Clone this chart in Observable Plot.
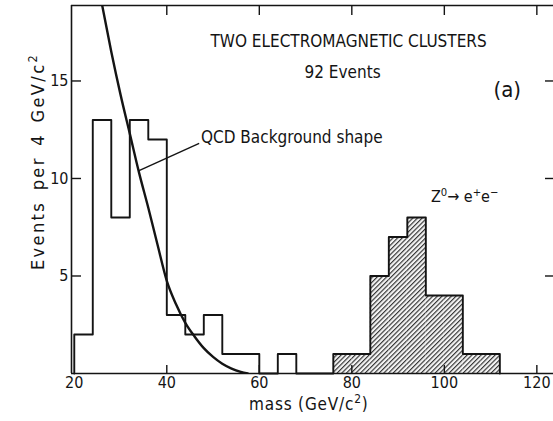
<!DOCTYPE html>
<html><head><meta charset="utf-8">
<script src="https://cdn.jsdelivr.net/npm/d3@7"></script>
<script src="https://cdn.jsdelivr.net/npm/@observablehq/plot@0.6"></script>
<style>
html,body{margin:0;padding:0;background:#fff;}
#chart svg{display:block;}
</style></head><body><div id="chart"></div>
<script>
// ---- data ----
const binLow    = [20, 24, 28, 32, 36, 40, 44, 48, 52, 56, 60, 64, 68, 72, 76, 80, 84, 88, 92, 96, 100, 104, 108];
const binCounts = [ 2, 13,  8, 13, 12,  3,  2,  3,  1,  1,  0,  1,  0,  0,  1,  1,  5,  7,  8,  4,   4,   1,   1];
const binWidth = 4;
const zPeakFrom = 76; // bins from here on are the hatched Z0 -> e+e- signal

const curveMass   = [25.6, 28, 30, 32, 34, 36, 38, 40, 42, 44, 46, 48, 50, 52, 54, 56, 57.5];
const curveEvents = [19.4, 16.5, 14.3, 12.3, 10.3, 8.5, 6.6, 4.75, 3.55, 2.6, 1.9, 1.3, 0.85, 0.5, 0.25, 0.08, 0];

const xTicks = [20, 40, 60, 80, 100, 120];
const yTicks = [5, 10, 15];
const xDomain = [19.4, 123.6];
const yDomain = [0, 18.87];

const titleText = ["TWO ELECTROMAGNETIC CLUSTERS", "92 Events"];
const titleMass = [79.3, 78.0];
const titleEvents = [17.0, 15.45];
const panelText = "(a)";
const panelAt = [113.6, 14.55];
const qcdText = "QCD Background shape";
const qcdAt = [47.4, 12.1];
const qcdLeader = {x1: 34.0, y1: 10.4, x2: 47.0, y2: 11.8};
const zText = "Z⁰→ e⁺e⁻";
const zAt = [97.1, 9.05];
const xLabel = "mass (GeV/c²)";
const xLabelMass = 70.7;
const yLabel = "Events\u2002per\u20024\u2002GeV/c²";
const yLabelEvents = 10.87;

// ---- derived tables ----
const bins = binLow.map((lo, i) => ({lo, hi: lo + binWidth, n: binCounts[i]}));
const zBins = bins.filter(d => d.lo >= zPeakFrom);
const outline = [{x: binLow[0], y: 0}, ...bins.map(d => ({x: d.lo, y: d.n})), {x: binLow[binLow.length - 1] + binWidth, y: 0}];
const curve = curveMass.map((m, i) => ({m, e: curveEvents[i]}));

const font = "'DejaVu Sans Condensed','DejaVu Sans',sans-serif";
const ink = "#141414";

const chart = Plot.plot({
  width: 553,
  height: 421,
  marginLeft: 71,
  marginRight: 0,
  marginTop: 5,
  marginBottom: 48,
  x: {domain: xDomain, axis: null},
  y: {domain: yDomain, axis: null},
  style: {background: "white", color: ink, fontFamily: font},
  marks: [
    Plot.rect(zBins, {x1: "lo", x2: "hi", y1: 0, y2: "n", fill: "url(#hatch)"}),
    // frame lines
    Plot.ruleY([yDomain[0]], {stroke: ink, strokeWidth: 1.6}),
    Plot.ruleY([yDomain[1]], {stroke: ink, strokeWidth: 1.6}),
    Plot.ruleX([xDomain[0]], {stroke: ink, strokeWidth: 1.6}),
    // inward ticks
    Plot.ruleX(xTicks.filter(t => t > 20), {stroke: ink, strokeWidth: 1.4, insetTop: 360}),
    Plot.ruleX(xTicks.filter(t => t > 20), {stroke: ink, strokeWidth: 1.4, insetBottom: 358}),
    Plot.ruleY(yTicks, {stroke: ink, strokeWidth: 1.4, insetRight: 472}),
    Plot.ruleY(yTicks, {stroke: ink, strokeWidth: 1.4, insetLeft: 474}),
    // histogram outline
    Plot.line(outline, {x: "x", y: "y", curve: "step-after", stroke: ink, strokeWidth: 1.9}),
    // QCD curve
    Plot.line(curve, {x: "m", y: "e", curve: "monotone-x", stroke: ink, strokeWidth: 2.4, clip: true}),
    Plot.link([qcdLeader], {x1: "x1", y1: "y1", x2: "x2", y2: "y2", stroke: ink, strokeWidth: 1.4}),
    // tick labels
    Plot.text(xTicks, {x: d => d, frameAnchor: "bottom", dy: 14.5, fontSize: 16, fill: ink, fontFamily: font}),
    Plot.text(yTicks, {y: d => d, frameAnchor: "left", dx: -3, textAnchor: "end", fontSize: 16, fill: ink, fontFamily: font}),
    // axis labels
    Plot.text([xLabel], {x: xLabelMass, frameAnchor: "bottom", dy: 36, fontSize: 17, fill: ink, fontFamily: font}),
    Plot.text([yLabel], {y: yLabelEvents, frameAnchor: "left", dx: -33, rotate: -90, textAnchor: "middle", fontSize: 18, fill: ink, fontFamily: font}),
    // annotations
    Plot.text(titleText, {x: (d, i) => titleMass[i], y: (d, i) => titleEvents[i], fontSize: 17, fill: ink, fontFamily: font}),
    Plot.text([panelText], {x: panelAt[0], y: panelAt[1], fontSize: 22, fill: ink, fontFamily: font}),
    Plot.text([qcdText], {x: qcdAt[0], y: qcdAt[1], textAnchor: "start", fontSize: 17, fill: ink, fontFamily: font}),
    Plot.text([zText], {x: zAt[0], y: zAt[1], textAnchor: "start", fontSize: 16, fill: ink, fontFamily: font})
  ]
});

// hatch pattern for the Z0 peak
const ns = "http://www.w3.org/2000/svg";
const defs = document.createElementNS(ns, "defs");
defs.innerHTML = '<pattern id="hatch" patternUnits="userSpaceOnUse" width="3.3" height="3.3" patternTransform="rotate(45)">' +
  '<rect width="3.3" height="3.3" fill="#f4f4f4"/><line x1="0.6" y1="0" x2="0.6" y2="3.3" stroke="#2a2a2a" stroke-width="1.1"/></pattern>';
chart.insertBefore(defs, chart.firstChild);
document.getElementById("chart").appendChild(chart);

// real superscripts (bigger than the Unicode glyphs) and letter spacing
const supMap = {"⁰": "0", "²": "2", "⁺": "+", "⁻": "−"};
chart.querySelectorAll("text").forEach(t => {
  t.style.fontStretch = "condensed";
  const s = t.textContent;
  if (s === yLabel) t.style.letterSpacing = "2.4px";
  if (s === xLabel) t.style.letterSpacing = "0.8px";
  if (!/[⁰²⁺⁻]/.test(s)) return;
  const fs = parseFloat(getComputedStyle(t).fontSize);
  const shift = 0.4 * fs;
  t.textContent = "";
  let raised = false;
  for (const ch of s) {
    const sup = ch in supMap;
    const span = document.createElementNS(ns, "tspan");
    span.textContent = sup ? supMap[ch] : ch;
    if (sup) span.setAttribute("font-size", (0.7 * fs).toFixed(1));
    if (sup && !raised) { span.setAttribute("dy", (-shift).toFixed(1)); raised = true; }
    else if (!sup && raised) { span.setAttribute("dy", shift.toFixed(1)); raised = false; }
    t.appendChild(span);
  }
});
</script></body></html>
